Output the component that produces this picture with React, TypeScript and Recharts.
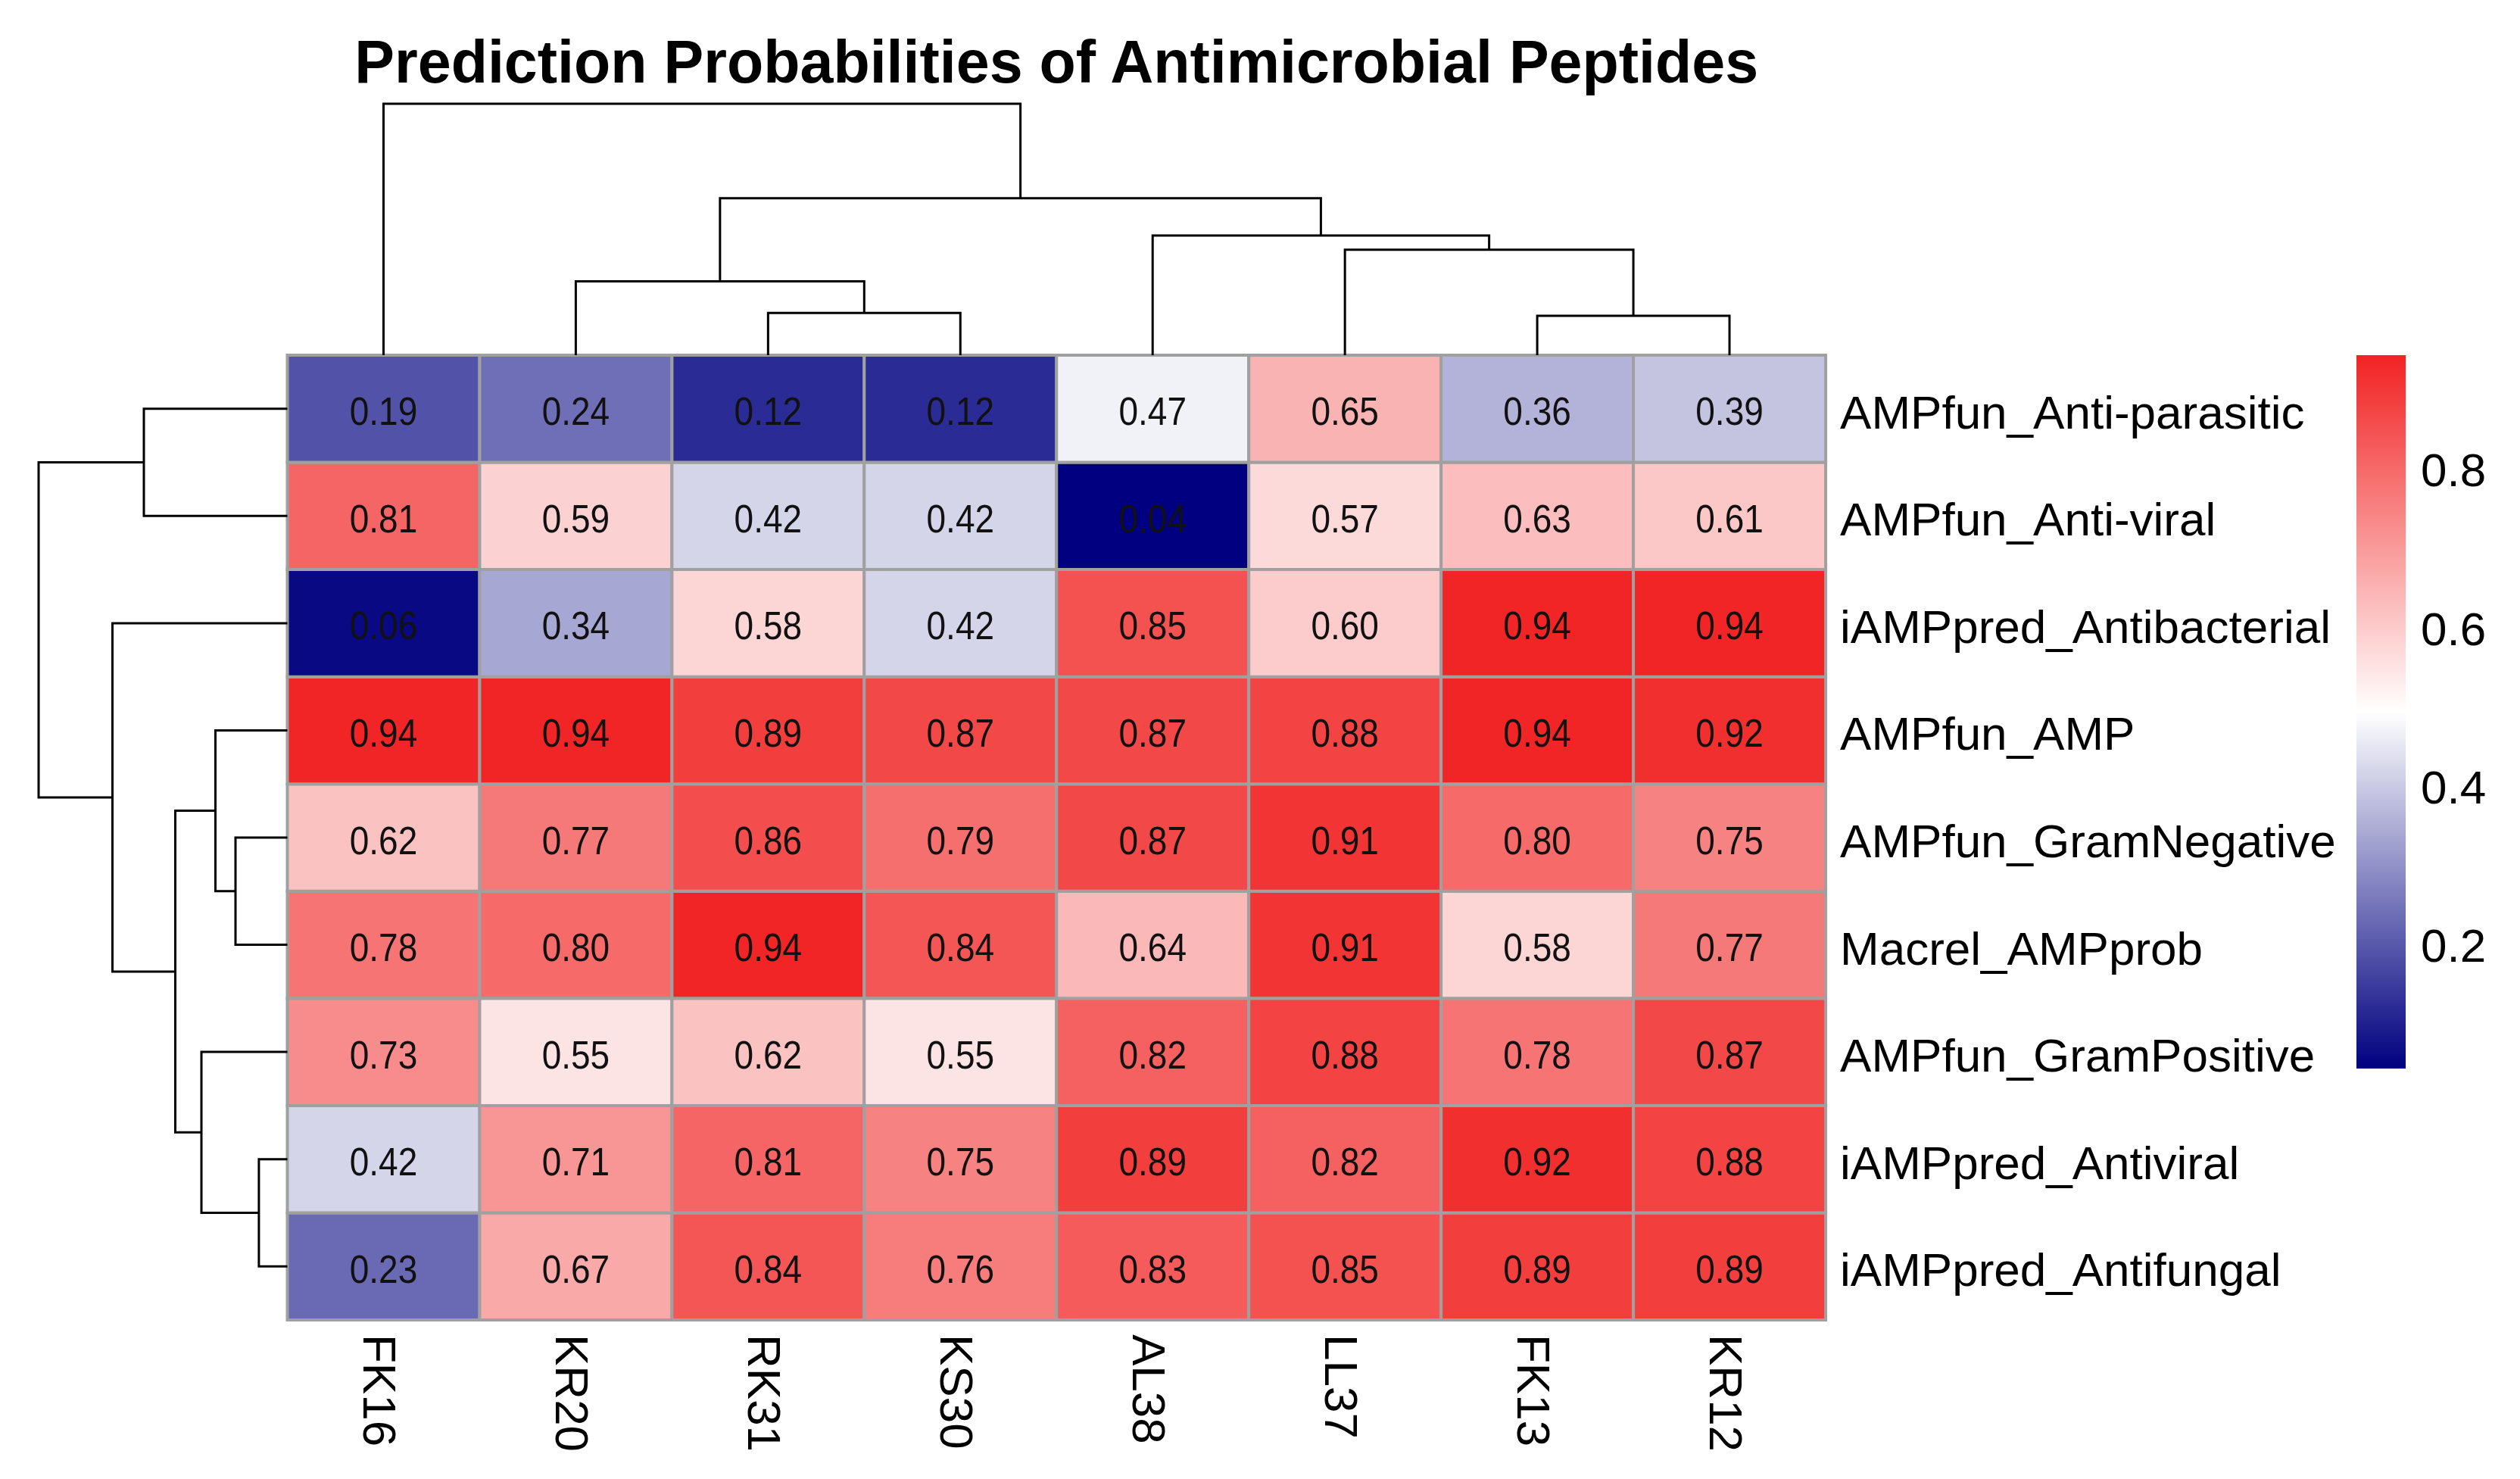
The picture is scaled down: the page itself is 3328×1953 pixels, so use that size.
import React from 'react';
import { BarChart, Bar, XAxis, YAxis, Cell, LabelList, ScatterChart, Scatter } from 'recharts';

// ---------------- data ----------------
const columns = ['FK16', 'KR20', 'RK31', 'KS30', 'AL38', 'LL37', 'FK13', 'KR12'];
const rowNames = [
  'AMPfun_Anti-parasitic',
  'AMPfun_Anti-viral',
  'iAMPpred_Antibacterial',
  'AMPfun_AMP',
  'AMPfun_GramNegative',
  'Macrel_AMPprob',
  'AMPfun_GramPositive',
  'iAMPpred_Antiviral',
  'iAMPpred_Antifungal',
];
const ampfunAntiParasitic = [0.19, 0.24, 0.12, 0.12, 0.47, 0.65, 0.36, 0.39];
const ampfunAntiViral = [0.81, 0.59, 0.42, 0.42, 0.04, 0.57, 0.63, 0.61];
const iampredAntibacterial = [0.06, 0.34, 0.58, 0.42, 0.85, 0.6, 0.94, 0.94];
const ampfunAmp = [0.94, 0.94, 0.89, 0.87, 0.87, 0.88, 0.94, 0.92];
const ampfunGramNegative = [0.62, 0.77, 0.86, 0.79, 0.87, 0.91, 0.8, 0.75];
const macrelAmpProb = [0.78, 0.8, 0.94, 0.84, 0.64, 0.91, 0.58, 0.77];
const ampfunGramPositive = [0.73, 0.55, 0.62, 0.55, 0.82, 0.88, 0.78, 0.87];
const iampredAntiviral = [0.42, 0.71, 0.81, 0.75, 0.89, 0.82, 0.92, 0.88];
const iampredAntifungal = [0.23, 0.67, 0.84, 0.76, 0.83, 0.85, 0.89, 0.89];
const rowValues = [
  ampfunAntiParasitic,
  ampfunAntiViral,
  iampredAntibacterial,
  ampfunAmp,
  ampfunGramNegative,
  macrelAmpProb,
  ampfunGramPositive,
  iampredAntiviral,
  iampredAntifungal,
];

// hclust-style merges: negative = leaf (1-based, display order), positive = earlier merge; third = height
const colMerges: [number, number, number][] = [
  [-7, -8, 52],
  [-3, -4, 55.7],
  [-2, 2, 97.3],
  [-6, 1, 139],
  [-5, 4, 157.7],
  [3, 5, 206.7],
  [-1, 6, 331.3],
];
const rowMerges: [number, number, number][] = [
  [-8, -9, 37.6],
  [-5, -6, 68.5],
  [-4, 2, 95],
  [-7, 1, 113.5],
  [3, 4, 148],
  [-1, -2, 189.5],
  [-3, 5, 231],
  [6, 7, 328.5],
];

const legendTicks = [0.2, 0.4, 0.6, 0.8];
const colorDomain = [0.045, 0.945];

// ---------------- styling ----------------
const FONT = "'Liberation Sans', Arial, Helvetica, sans-serif";
const LOW = [0, 0, 128];
const MID = [255, 255, 255];
const HIGH = [241, 35, 35];
const GRID = '#A0A0A0';

function colorOf(v: number): string {
  let t = (v - colorDomain[0]) / (colorDomain[1] - colorDomain[0]);
  t = Math.max(0, Math.min(1, t));
  let a: number[], b: number[], f: number;
  if (t < 0.5) {
    a = LOW; b = MID; f = t / 0.5;
  } else {
    a = MID; b = HIGH; f = (t - 0.5) / 0.5;
  }
  const c = a.map((x, k) => Math.round(x + (b[k] - x) * f));
  return `rgb(${c[0]},${c[1]},${c[2]})`;
}

const heatData = columns.map((col, j) => {
  const o: Record<string, any> = { col };
  rowValues.forEach((vals, i) => {
    o[`u${i}`] = 1;
    o[`v${i}`] = vals[j];
  });
  return o;
});

function buildLinks(merges: [number, number, number][]) {
  const pos: number[] = [];
  const hts: number[] = [];
  const ref = (k: number) => (k < 0 ? { p: -k - 1 + 0.5, h: 0 } : { p: pos[k - 1], h: hts[k - 1] });
  return merges.map(([a, b, h], idx) => {
    const A = ref(a);
    const B = ref(b);
    pos[idx] = (A.p + B.p) / 2;
    hts[idx] = h;
    return [
      { p: A.p, h: A.h },
      { p: A.p, h },
      { p: B.p, h },
      { p: B.p, h: B.h },
    ];
  });
}

const colLinks = buildLinks(colMerges).map((pts) => pts.map((q) => ({ x: q.p, y: q.h })));
const rowLinks = buildLinks(rowMerges).map((pts) => pts.map((q) => ({ x: q.h, y: q.p })));

const W = 3328;
const H = 1953;
const HM = { left: 379.5, right: 2411, top: 469, bottom: 1743 };

const NoDot = () => <g />;

const layer: React.CSSProperties = { position: 'absolute', left: 0, top: 0 };

function valueLabel(props: any) {
  const { x, y, width, height, value } = props;
  const cx = Number(x) + Number(width) / 2;
  const cy = Number(y) + Number(height) / 2 + 3.5;
  return (
    <text
      transform={`translate(${cx} ${cy}) scale(0.885 1)`}
      textAnchor="middle"
      dominantBaseline="central"
      fontSize={52}
      fontFamily={FONT}
      fill="#111"
    >
      {Number(value).toFixed(2)}
    </text>
  );
}

function makeRowLabel(i: number) {
  return (props: any) => {
    const { x, y, width, height, index } = props;
    if (index !== columns.length - 1) return <g />;
    const tx = Number(x) + Number(width) + 19;
    const ty = Number(y) + Number(height) / 2 + 26;
    return (
      <text x={tx} y={ty} fontSize={62} fontFamily={FONT} fill="#000" textAnchor="start">
        {rowNames[i]}
      </text>
    );
  };
}

function colLabel(props: any) {
  const { x, y, width, height, index } = props;
  const cx = Number(x) + Number(width) / 2 - 5;
  const ty = Number(y) + Number(height) + 19;
  return (
    <text
      transform={`translate(${cx} ${ty}) rotate(90)`}
      textAnchor="start"
      dominantBaseline="central"
      fontSize={62}
      fontFamily={FONT}
      fill="#000"
    >
      {columns[index]}
    </text>
  );
}

function LegendTick(props: any) {
  const { x, y, payload } = props;
  return (
    <text x={Number(x)} y={Number(y)} dominantBaseline="central" fontSize={62} fontFamily={FONT} fill="#000">
      {Number(payload.value).toFixed(1)}
    </text>
  );
}

const rowOrderBottomUp = rowNames.map((_, i) => rowNames.length - 1 - i);

export default function App() {
  return (
    <div style={{ position: 'absolute', left: 0, top: 0, width: W, height: H, background: '#fff', overflow: 'hidden' }}>
      <svg width={W} height={H} style={layer}>
        <text x={(HM.left + HM.right) / 2} y={109} textAnchor="middle" fontSize={79} fontWeight="bold" fontFamily={FONT} fill="#000">
          Prediction Probabilities of Antimicrobial Peptides
        </text>
      </svg>

      {/* heatmap */}
      <div style={layer}>
        <BarChart
          width={W}
          height={H}
          data={heatData}
          barCategoryGap={0}
          barGap={0}
          margin={{ left: HM.left, right: W - HM.right, top: HM.top, bottom: H - HM.bottom }}
        >
          <XAxis dataKey="col" hide />
          <YAxis yAxisId="left" type="number" domain={[0, 9]} hide />
          {rowOrderBottomUp.map((i) => (
            <Bar key={i} dataKey={`u${i}`} stackId="hm" yAxisId="left" isAnimationActive={false}>
              {heatData.map((d, j) => (
                <Cell key={j} fill={colorOf(d[`v${i}`])} stroke={GRID} strokeWidth={4} />
              ))}
              <LabelList dataKey={`v${i}`} content={valueLabel} />
              <LabelList dataKey={`v${i}`} content={makeRowLabel(i)} />
              {i === rowNames.length - 1 ? <LabelList dataKey="col" content={colLabel} /> : null}
            </Bar>
          ))}
        </BarChart>
      </div>

      {/* top dendrogram */}
      <div style={layer}>
        <ScatterChart width={W} height={H} margin={{ left: HM.left, right: W - HM.right, top: 137, bottom: H - HM.top }}>
          <XAxis type="number" dataKey="x" domain={[0, columns.length]} hide />
          <YAxis type="number" dataKey="y" domain={[0, 331.3]} hide />
          {colLinks.map((pts, k) => (
            <Scatter
              key={k}
              data={pts}
              fill="#000"
              line={{ stroke: '#000', strokeWidth: 3 }}
              lineType="joint"
              shape={NoDot}
              isAnimationActive={false}
            />
          ))}
        </ScatterChart>
      </div>

      {/* left dendrogram */}
      <div style={layer}>
        <ScatterChart width={W} height={H} margin={{ left: 51, right: W - HM.left, top: HM.top, bottom: H - HM.bottom }}>
          <XAxis type="number" dataKey="x" domain={[0, 328.5]} reversed hide />
          <YAxis type="number" dataKey="y" domain={[0, rowNames.length]} reversed hide />
          {rowLinks.map((pts, k) => (
            <Scatter
              key={k}
              data={pts}
              fill="#000"
              line={{ stroke: '#000', strokeWidth: 3 }}
              lineType="joint"
              shape={NoDot}
              isAnimationActive={false}
            />
          ))}
        </ScatterChart>
      </div>

      {/* colour legend */}
      <div style={{ position: 'absolute', left: 3000, top: 0 }}>
        <BarChart
          width={328}
          height={H}
          data={[{ k: 'scale', range: colorDomain }]}
          barCategoryGap={0}
          margin={{ left: 112, right: 11, top: 469, bottom: H - 1411 }}
        >
          <defs>
            <linearGradient id="legendGradient" x1="0" y1="0" x2="0" y2="1">
              <stop offset="0%" stopColor={`rgb(${HIGH.join(',')})`} />
              <stop offset="50%" stopColor="#ffffff" />
              <stop offset="100%" stopColor={`rgb(${LOW.join(',')})`} />
            </linearGradient>
          </defs>
          <XAxis dataKey="k" hide />
          <YAxis
            orientation="right"
            type="number"
            domain={colorDomain}
            ticks={legendTicks}
            width={140}
            axisLine={false}
            tickLine={false}
            tickSize={0}
            tickMargin={20}
            tick={<LegendTick />}
          />
          <Bar dataKey="range" fill="url(#legendGradient)" isAnimationActive={false} />
        </BarChart>
      </div>
    </div>
  );
}
